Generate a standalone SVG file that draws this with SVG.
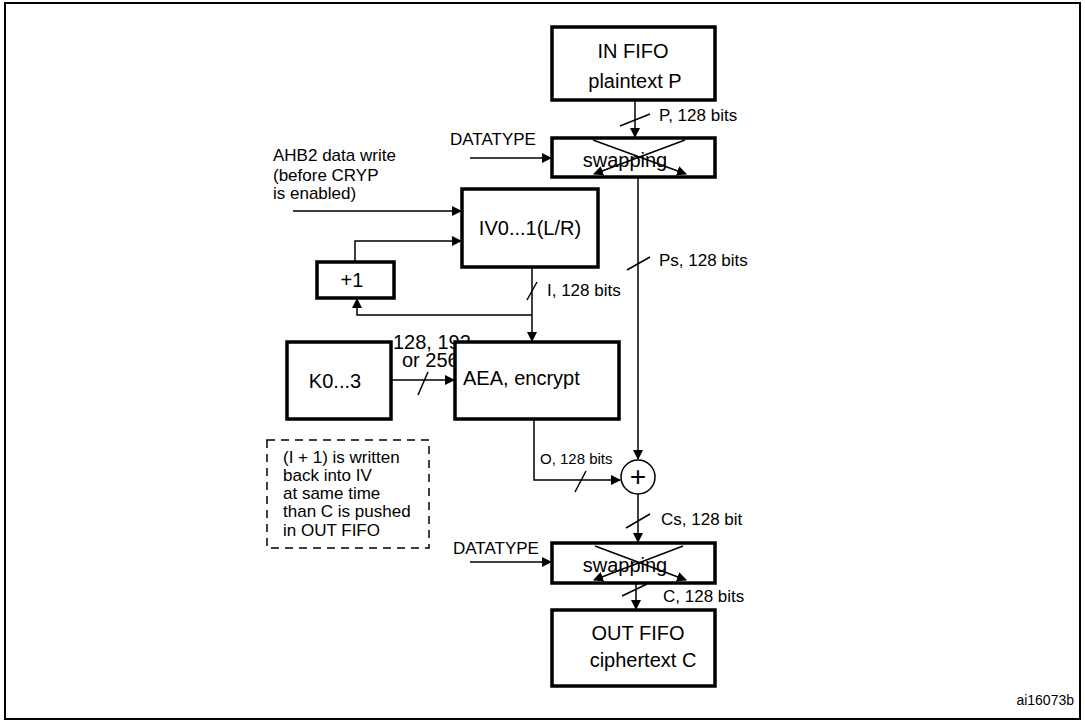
<svg xmlns="http://www.w3.org/2000/svg" width="1085" height="721" viewBox="0 0 1085 721">
<defs>
<marker id="a" markerWidth="10" markerHeight="10" refX="9" refY="5" orient="auto" markerUnits="userSpaceOnUse"><path d="M0,0 L10,5 L0,10 z" fill="#000"/></marker>
<style>
text{font-family:"Liberation Sans",Arial,sans-serif;font-size:17px;fill:#000}
.b{fill:#fff;stroke:#000;stroke-width:3.5}
.l{fill:none;stroke:#000;stroke-width:1.5}
.big{font-size:20px}
</style>
</defs>
<rect x="0" y="0" width="1085" height="721" fill="#fff"/>
<rect x="5" y="3" width="1075" height="716" fill="none" stroke="#000" stroke-width="2"/>
<g id="connectors" class="l">
<path d="M635,100 V137" marker-end="url(#a)"/><path d="M620,126 L650,114"/>
<path d="M470,158 H551" marker-end="url(#a)"/>
<path d="M293,211 H461" marker-end="url(#a)"/>
<path d="M355,262 V241 H461" marker-end="url(#a)"/>
<path d="M532,267 V341" marker-end="url(#a)"/><path d="M527,300 L537,282"/>
<path d="M532,315 H357 V299" marker-end="url(#a)"/>
<path d="M391,380 H454" marker-end="url(#a)"/><path d="M418,395 L428,372"/>
<path d="M638,177 V459" marker-end="url(#a)"/><path d="M627,270 L650,257"/>
<path d="M534,419 V480 H620" marker-end="url(#a)"/><path d="M575,492 L586,471"/>
<path d="M638,494 V542" marker-end="url(#a)"/><path d="M626,528 L650,514"/>
<path d="M470,562 H551" marker-end="url(#a)"/>
<path d="M636,583 V609" marker-end="url(#a)"/><path d="M622,596 L647,584"/>
</g>
<g id="infifo"><rect class="b" x="552" y="27" width="163" height="73"/><text class="big" x="633" y="58" text-anchor="middle">IN FIFO</text><text class="big" x="635" y="88" text-anchor="middle">plaintext P</text></g>
<text x="659" y="121">P, 128 bits</text>
<g id="swap1"><rect class="b" x="552" y="138" width="163" height="39"/><path class="l" d="M593,140 L686,174" marker-end="url(#a)"/><path class="l" d="M685,140 L594,174" marker-end="url(#a)"/><text class="big" x="625" y="167" text-anchor="middle">swapping</text></g>
<text x="450" y="145">DATATYPE</text>
<text x="273" y="161">AHB2 data write</text><text x="273" y="181">(before CRYP</text><text x="273" y="199">is enabled)</text>
<g id="iv"><rect class="b" x="462" y="189" width="136" height="78"/><text class="big" x="530" y="235" text-anchor="middle">IV0...1(L/R)</text></g>
<g id="plus1"><rect class="b" x="317" y="262" width="77" height="36"/><text class="big" x="352" y="287" text-anchor="middle">+1</text></g>
<text x="547" y="296">I, 128 bits</text>
<text x="659" y="266">Ps, 128 bits</text>
<g id="key"><rect class="b" x="287" y="342" width="104" height="77"/><text class="big" x="335" y="388" text-anchor="middle">K0...3</text></g>
<text class="big" x="393" y="349">128, 192</text><text class="big" x="402" y="367">or 256</text>
<g id="aea"><rect class="b" x="455" y="342" width="164" height="77"/><text class="big" x="463" y="385">AEA, encrypt</text></g>
<g id="note"><rect x="267" y="440" width="162" height="108" fill="none" stroke="#000" stroke-width="1.5" stroke-dasharray="8,6"/><text x="283" y="463">(I + 1) is written</text><text x="283" y="481">back into IV</text><text x="283" y="499">at same time</text><text x="283" y="517">than C is pushed</text><text x="283" y="536">in OUT FIFO</text></g>
<text x="540" y="464" style="font-size:15px">O, 128 bits</text>
<g id="xor"><circle cx="638" cy="477" r="17" fill="#fff" stroke="#000" stroke-width="1.5"/><text x="638" y="486" text-anchor="middle" style="font-size:28px">+</text></g>
<text x="661" y="525">Cs, 128 bit</text>
<text x="453" y="554">DATATYPE</text>
<g id="swap2"><rect class="b" x="552" y="543" width="163" height="40"/><path class="l" d="M595,546 L686,580" marker-end="url(#a)"/><path class="l" d="M683,546 L594,580" marker-end="url(#a)"/><text class="big" x="625" y="572" text-anchor="middle">swapping</text></g>
<text x="663" y="602">C, 128 bits</text>
<g id="outfifo"><rect class="b" x="552" y="610" width="163" height="76"/><text class="big" x="638" y="640" text-anchor="middle">OUT FIFO</text><text class="big" x="643" y="667" text-anchor="middle">ciphertext C</text></g>
<text x="1074" y="705" style="font-size:14px" text-anchor="end">ai16073b</text>
</svg>
